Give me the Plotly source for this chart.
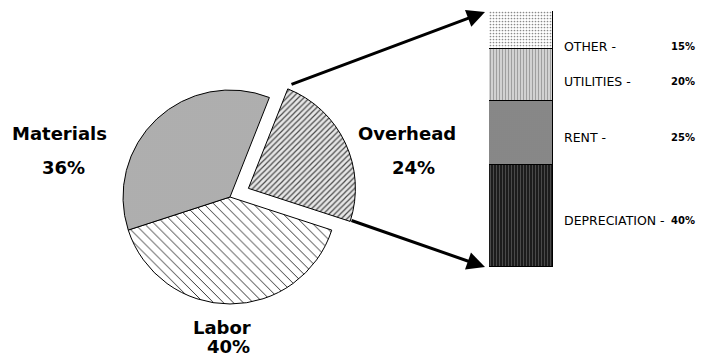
import plotly.graph_objects as go

# Cost breakdown (pie) and the Overhead split (stacked bar)
cost_labels = ["Overhead", "Labor", "Materials"]
cost_values = [24, 40, 36]

overhead_parts = ["DEPRECIATION", "RENT", "UTILITIES", "OTHER"]
overhead_values = [40, 25, 20, 15]

W, H = 702, 362


def px(x):
    return x / W


def py(y):
    return 1 - y / H


fig = go.Figure()

# pie: centre (230,197), radius ~107 px, Overhead pulled out
pull = 0.19
r_px = 107
half = r_px * (1 + pull)
cx, cy = 230, 197
fig.add_trace(go.Pie(
    labels=cost_labels,
    values=cost_values,
    sort=False,
    direction="clockwise",
    rotation=21.6,
    pull=[pull, 0, 0],
    textinfo="none",
    hoverinfo="label+percent",
    showlegend=False,
    domain=dict(x=[px(cx - half), px(cx + half)], y=[py(cy + half), py(cy - half)]),
    marker=dict(
        colors=["#e0e0e0", "white", "#d4d4d4"],
        line=dict(color="black", width=1),
        pattern=dict(
            shape=["/", "\\", "."],
            fgcolor=["#4a4a4a", "#222222", "#6a6a6a"],
            bgcolor=["#e6e6e6", "white", "#d4d4d4"],
            size=[4, 7, 2],
            solidity=[0.3, 0.13, 0.35],
            fillmode="replace",
        ),
    ),
))

# stacked bar for the Overhead breakdown
bar_fill = {
    "DEPRECIATION": ("#1c1c1c", "#6a6a6a", "|", 3, 0.2),
    "RENT": ("#9a9a9a", "#666666", ".", 2, 0.35),
    "UTILITIES": ("#d2d2d2", "#9a9a9a", "|", 3, 0.3),
    "OTHER": ("#ffffff", "#8a8a8a", ".", 3, 0.25),
}
for name, val in zip(overhead_parts, overhead_values):
    bg, fg, shp, sz, sol = bar_fill[name]
    fig.add_trace(go.Bar(
        x=["Overhead"],
        y=[val],
        name=name,
        showlegend=False,
        hovertemplate=name + ": %{y}%<extra></extra>",
        marker=dict(
            color=bg,
            line=dict(color="black", width=1),
            pattern=dict(shape=shp, fgcolor=fg, bgcolor=bg, size=sz,
                         solidity=sol, fillmode="replace"),
        ),
    ))

annotations = []

# pie labels
big = dict(family="DejaVu Sans", size=18, color="black")
for text, x, y in [
    ("<b>Materials</b>", 59, 133), ("<b>36%</b>", 63, 168),
    ("<b>Labor</b>", 222, 327), ("<b>40%</b>", 228, 346),
    ("<b>Overhead</b>", 407, 133), ("<b>24%</b>", 413, 167),
]:
    annotations.append(dict(text=text, x=px(x), y=py(y), xref="paper", yref="paper",
                            xanchor="center", yanchor="middle", showarrow=False,
                            font=big))

# bar labels
small = dict(family="DejaVu Sans", size=12.5, color="black")
pct_font = dict(family="DejaVu Sans", size=10, color="black")
label_y = {"OTHER": 47, "UTILITIES": 82, "RENT": 137, "DEPRECIATION": 220}
for name, val in zip(overhead_parts, overhead_values):
    y = label_y[name]
    annotations.append(dict(text=name + " -", x=px(562), y=py(y), xref="paper", yref="paper",
                            xanchor="left", yanchor="middle", showarrow=False, font=small))
    annotations.append(dict(text="<b>%d%%</b>" % val, x=px(697), y=py(y), xref="paper",
                            yref="paper", xanchor="right", yanchor="middle",
                            showarrow=False, font=pct_font))

# arrows from the pulled slice to the bar
for tip, tail in [((485, 12), (290, 85)), ((485, 267), (350, 220))]:
    annotations.append(dict(text="", x=px(tip[0]), y=py(tip[1]), xref="paper", yref="paper",
                            ax=tail[0] - tip[0], ay=tail[1] - tip[1],
                            showarrow=True, arrowhead=2, arrowsize=1.2, arrowwidth=3,
                            arrowcolor="black", standoff=0))

fig.update_layout(
    width=W, height=H,
    margin=dict(l=0, r=0, t=0, b=0),
    paper_bgcolor="white",
    plot_bgcolor="white",
    barmode="stack",
    bargap=0,
    showlegend=False,
    annotations=annotations,
    xaxis=dict(domain=[px(489), px(553)], visible=False, fixedrange=True),
    yaxis=dict(domain=[py(267), py(11)], range=[0, 100], visible=False, fixedrange=True),
)

fig.write_html("out.html")
